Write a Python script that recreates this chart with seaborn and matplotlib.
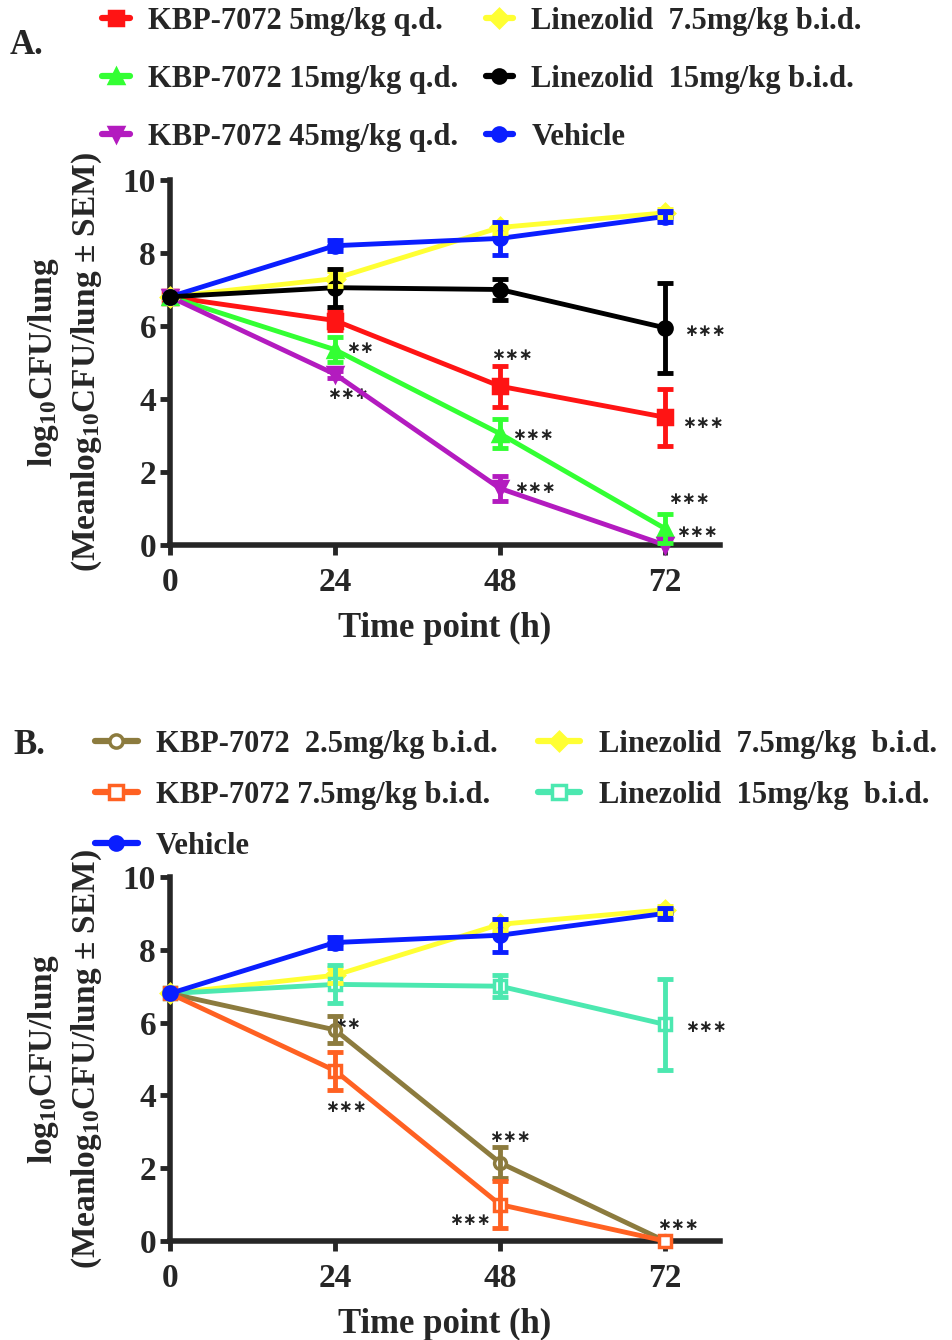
import numpy as np
import pandas as pd
import matplotlib
matplotlib.use("Agg")
import matplotlib.pyplot as plt
from matplotlib.lines import Line2D
import seaborn as sns

# ---- data (mean log10 CFU/lung, SEM) ----
time = [0, 24, 48, 72]

kbp5 = [6.8, 6.15, 4.35, 3.5]
kbp5_sem = [0, 0.25, 0.56, 0.78]
kbp15 = [6.8, 5.35, 3.05, 0.45]
kbp15_sem = [0, 0.34, 0.40, 0.40]
kbp45 = [6.8, 4.68, 1.55, 0.0]
kbp45_sem = [0, 0.10, 0.35, 0]
kbp25_bid = [6.8, 5.8, 2.15, 0.0]
kbp25_bid_sem = [0, 0.37, 0.43, 0]
kbp75_bid = [6.8, 4.68, 1.0, 0.0]
kbp75_bid_sem = [0, 0.52, 0.64, 0]
lin75 = [6.8, 7.3, 8.7, 9.1]
lin75_sem = [0, 0.20, 0.15, 0.10]
lin15 = [6.8, 7.05, 7.0, 5.95]
lin15_sem = [0, 0.52, 0.30, 1.24]
vehicle = [6.8, 8.2, 8.4, 9.0]
vehicle_sem = [0, 0.15, 0.45, 0.15]

sns.set_style("ticks")
plt.rcParams["font.family"] = ["Liberation Serif", "DejaVu Sans"]
plt.rcParams["font.weight"] = "bold"
plt.rcParams["mathtext.fontset"] = "custom"
plt.rcParams["mathtext.rm"] = "Liberation Serif:bold"
plt.rcParams["mathtext.bf"] = "Liberation Serif:bold"
plt.rcParams["mathtext.default"] = "bf"

# name: (mean, sem, color, marker, open)
series_a = {
    "KBP-7072 5mg/kg q.d.": (kbp5, kbp5_sem, "#ff1414", "s", False),
    "KBP-7072 15mg/kg q.d.": (kbp15, kbp15_sem, "#33ff33", "^", False),
    "KBP-7072 45mg/kg q.d.": (kbp45, kbp45_sem, "#b31bbf", "v", False),
    "Linezolid  7.5mg/kg b.i.d.": (lin75, lin75_sem, "#ffff33", "D", False),
    "Vehicle": (vehicle, vehicle_sem, "#0a1eff", "o", False),
    "Linezolid  15mg/kg b.i.d.": (lin15, lin15_sem, "#000000", "o", False),
}
legend_a = ["KBP-7072 5mg/kg q.d.", "KBP-7072 15mg/kg q.d.", "KBP-7072 45mg/kg q.d.",
            "Linezolid  7.5mg/kg b.i.d.", "Linezolid  15mg/kg b.i.d.", "Vehicle"]

series_b = {
    "Linezolid  7.5mg/kg  b.i.d.": (lin75, lin75_sem, "#ffff33", "D", False),
    "Linezolid  15mg/kg  b.i.d.": (lin15, lin15_sem, "#4ce8b0", "s", True),
    "KBP-7072  2.5mg/kg b.i.d.": (kbp25_bid, kbp25_bid_sem, "#8c7b3e", "o", True),
    "KBP-7072 7.5mg/kg b.i.d.": (kbp75_bid, kbp75_bid_sem, "#ff6122", "s", True),
    "Vehicle": (vehicle, vehicle_sem, "#0a1eff", "o", False),
}
legend_b = ["KBP-7072  2.5mg/kg b.i.d.", "KBP-7072 7.5mg/kg b.i.d.", "Vehicle",
            "Linezolid  7.5mg/kg  b.i.d.", "Linezolid  15mg/kg  b.i.d."]

stars_a = [(77.8, 5.85, "∗∗∗"), (27.6, 5.4, "∗∗"), (49.7, 5.2, "∗∗∗"),
           (25.9, 4.15, "∗∗∗"), (77.5, 3.35, "∗∗∗"), (52.8, 3.02, "∗∗∗"),
           (53.1, 1.55, "∗∗∗"), (75.5, 1.27, "∗∗∗"), (76.6, 0.35, "∗∗∗")]
stars_b = [(78.0, 5.87, "∗∗∗"), (25.8, 5.95, "∗∗"), (25.6, 3.68, "∗∗∗"),
           (49.5, 2.85, "∗∗∗"), (43.6, 0.57, "∗∗∗"), (73.8, 0.45, "∗∗∗")]

LW = 3.5
MS = 9.5


def draw_panel(ax, series, stars):
    names = list(series.keys())
    df = pd.DataFrame({
        "time": np.tile(time, len(names)),
        "value": np.concatenate([series[n][0] for n in names]),
        "group": np.repeat(names, len(time)),
    })
    palette = {n: series[n][2] for n in names}
    markers = {n: series[n][3] for n in names}
    for t in stars:
        ax.text(t[0], t[1], t[2], ha="center", va="center", fontsize=12,
                family="DejaVu Sans", color="#222222", zorder=1)
    sns.lineplot(data=df, x="time", y="value", hue="group", style="group",
                 hue_order=names, style_order=names, palette=palette,
                 markers=markers, dashes=False, errorbar=None, linewidth=LW,
                 markersize=MS, markeredgewidth=2.5, legend=False, ax=ax, zorder=3)
    for line, n in zip(ax.get_lines(), names):
        line.set_clip_on(False)
        line.set_markeredgecolor(series[n][2])
        if series[n][4]:
            line.set_markerfacecolor("white")
            line.set_markersize(MS - 1)
    for i, n in enumerate(names):
        mean, sem, color = np.array(series[n][0]), np.array(series[n][1]), series[n][2]
        keep = sem > 0
        ax.errorbar(np.array(time)[keep], mean[keep], yerr=sem[keep], fmt="none",
                    ecolor=color, elinewidth=LW, capsize=6, capthick=LW,
                    zorder=3 + i * 0.01)
    ax.set_xlim(0, 80)
    ax.set_ylim(0, 10)
    ax.set_xticks(time)
    ax.set_yticks([0, 2, 4, 6, 8, 10])
    ax.tick_params(axis="both", direction="out", length=7, width=3.5,
                   labelsize=24, pad=3)
    ax.tick_params(axis="x", pad=9)
    for lab in ax.get_xticklabels() + ax.get_yticklabels():
        lab.set_fontweight("bold")
    for s in ("left", "bottom"):
        ax.spines[s].set_linewidth(4)
    sns.despine(ax=ax)
    ax.set_xlabel("Time point (h)", fontsize=25, fontweight="bold", labelpad=10)
    ax.set_ylabel("log$_{10}$CFU/lung\n(Meanlog$_{10}$CFU/lung ± SEM)",
                  fontsize=24, fontweight="bold", linespacing=1.35)
    ax.yaxis.set_label_coords(-0.12, 0.5)


def make_legend(fig, series, order, anchor, spacing, hlen, colsp):
    handles = []
    for n in order:
        c, m, op = series[n][2], series[n][3], series[n][4]
        handles.append(Line2D([], [], color=c, lw=LW + 1, marker=m, markersize=MS,
                              markerfacecolor="white" if op else c,
                              markeredgecolor=c, markeredgewidth=2.5))
    fig.legend(handles, order, loc="upper left", bbox_to_anchor=anchor, ncol=2,
               frameon=False, labelspacing=spacing, handlelength=hlen,
               handletextpad=0.6, columnspacing=colsp, borderpad=0, borderaxespad=0,
               prop={"weight": "bold", "size": 22})


fig = plt.figure(figsize=(9.52, 13.4), dpi=100)
ax_a = fig.add_axes([170 / 952, 795 / 1340, 550 / 952, 365 / 1340])
ax_b = fig.add_axes([170 / 952, 99 / 1340, 550 / 952, 364 / 1340])

draw_panel(ax_a, series_a, stars_a)
draw_panel(ax_b, series_b, stars_b)

make_legend(fig, series_a, legend_a, (102 / 952, 1 - 7 / 1340), 0.95, 0.9, 0.9)
make_legend(fig, series_b, legend_b, (95 / 952, 1 - 730 / 1340), 0.72, 1.4, 1.3)

fig.text(10 / 952, 1 - 45 / 1340, "A.", fontsize=25, fontweight="bold", va="center")
fig.text(13 / 952, 1 - 745 / 1340, "B.", fontsize=25, fontweight="bold", va="center")

fig.savefig("out.png", dpi=100)
